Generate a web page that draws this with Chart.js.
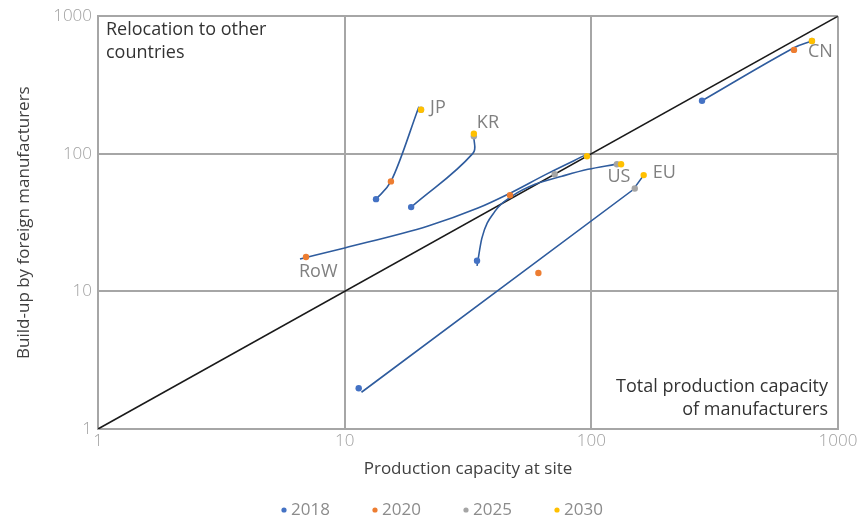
<!DOCTYPE html>
<html>
<head>
<meta charset="utf-8">
<script src="https://cdn.jsdelivr.net/npm/chart.js@4.4.1/dist/chart.umd.min.js"></script>
<style>
  html, body { margin: 0; padding: 0; background: #fff; }
  #wrap { width: 866px; height: 522px; }
</style>
</head>
<body>
<div id="wrap"><canvas id="chart"></canvas></div>
<script>
// axis ticks
const tickValues = [1, 10, 100, 1000];

// points per year (x: production capacity at site, y: build-up by foreign manufacturers)
const years = ['2018', '2020', '2025', '2030'];
const yearColors = ['#4472C4', '#ED7D31', '#A5A5A5', '#FFC000'];
const capacity2018 = [13.4, 18.6, 34.4, 11.4, 281];
const buildup2018  = [46.8, 41, 16.7, 1.98, 243];
const capacity2020 = [15.4, 46.8, 61, 6.97, 663];
const buildup2020  = [63, 50, 13.6, 17.8, 569];
const capacity2025 = [20.4, 33.4, 71, 127, 150, 784];
const buildup2025  = [209, 134, 71, 84, 56, 661];
const capacity2030 = [20.4, 33.4, 96, 132, 163, 784];
const buildup2030  = [209, 140, 96, 84, 70, 661];

// trajectory curves per country
const countries = ['JP', 'KR', 'US', 'RoW', 'EU', 'CN'];
const pathX = [
  [13.4, 15.4, 20.0],
  [18.6, 33.1, 33.4],
  [34.4, 36.0, 40.7, 47.7, 59.1, 76.0, 96.9, 124.7],
  [6.59, 10.0, 21.8, 34.7, 45.9, 66.7, 95.9],
  [11.7, 148, 163],
  [281, 663, 784]
];
const pathY = [
  [46.8, 63, 220],
  [41, 100.7, 134],
  [15.3, 24.4, 38.3, 49.3, 60.1, 68.7, 77.1, 83.8],
  [17.2, 20.7, 29.9, 40.3, 50.8, 72.1, 99.0],
  [1.85, 55, 70],
  [243, 590, 661]
];
const pathSmooth = ['monotone', 'tension', 'monotone', 'monotone', 'straight', 'tension'];

// country label anchor points
const labelX = [20.4, 33.4, 127, 6.97, 163, 784];
const labelY = [209, 140, 84, 17.8, 70, 661];

// diagonal
const diagonalX = [1, 1000];
const diagonalY = [1, 1000];

const FONT = "'Open Sans', Lato, sans-serif";

function pts(xs, ys) {
  return xs.map((x, i) => ({ x: x, y: ys[i] }));
}

const yearData = [
  pts(capacity2018, buildup2018),
  pts(capacity2020, buildup2020),
  pts(capacity2025, buildup2025),
  pts(capacity2030, buildup2030)
];

const datasets = [];
// year dots, 2030 on top
years.forEach((y, i) => {
  datasets.push({
    label: y,
    data: yearData[i],
    backgroundColor: yearColors[i],
    borderColor: yearColors[i],
    pointRadius: 3.2,
    pointBorderWidth: 0,
    showLine: false,
    order: 3 - i
  });
});
// trajectories
countries.forEach((c, i) => {
  const ds = {
    label: c,
    data: pts(pathX[i], pathY[i]),
    showLine: true,
    borderColor: '#2F5C9E',
    borderWidth: 1.6,
    pointRadius: 0,
    order: 5
  };
  if (pathSmooth[i] === 'monotone') ds.cubicInterpolationMode = 'monotone';
  else if (pathSmooth[i] === 'tension') ds.tension = 0.4;
  else ds.tension = 0;
  datasets.push(ds);
});
datasets.push({
  label: 'diagonal',
  data: pts(diagonalX, diagonalY),
  showLine: true,
  borderColor: '#1a1a1a',
  borderWidth: 1.6,
  pointRadius: 0,
  order: 6
});

// country labels + corner notes
const textPlugin = {
  id: 'texts',
  afterDatasetsDraw(chart) {
    const { ctx, chartArea, scales: { x, y } } = chart;
    const offsets = [[9, -2, 'left'], [3, -11, 'left'], [2, 13, 'center'], [-7, 15, 'left'], [9, -2, 'left'], [-4, 11, 'left']];
    ctx.save();
    ctx.font = `18px ${FONT}`;
    ctx.fillStyle = '#808080';
    ctx.textBaseline = 'middle';
    countries.forEach((c, i) => {
      const px = x.getPixelForValue(labelX[i]);
      const py = y.getPixelForValue(labelY[i]);
      ctx.textAlign = offsets[i][2];
      ctx.fillText(c, px + offsets[i][0], py + offsets[i][1]);
    });
    ctx.fillStyle = '#333';
    ctx.textAlign = 'left';
    ctx.fillText('Relocation to other', chartArea.left + 8, chartArea.top + 14);
    ctx.fillText('countries', chartArea.left + 8, chartArea.top + 37);
    ctx.textAlign = 'right';
    ctx.fillText('Total production capacity', chartArea.right - 10, chartArea.bottom - 42);
    ctx.fillText('of manufacturers', chartArea.right - 10, chartArea.bottom - 19);
    ctx.restore();
  }
};

// bottom legend
const legendPlugin = {
  id: 'yearLegend',
  afterDraw(chart) {
    const { ctx } = chart;
    const startX = 284, step = 91, cy = 510;
    ctx.save();
    ctx.font = `17px ${FONT}`;
    ctx.textBaseline = 'middle';
    ctx.textAlign = 'left';
    years.forEach((yr, i) => {
      const dx = startX + step * i;
      ctx.fillStyle = yearColors[i];
      ctx.beginPath();
      ctx.arc(dx, cy, 2.6, 0, Math.PI * 2);
      ctx.fill();
      ctx.fillStyle = '#8c8c8c';
      ctx.fillText(yr, dx + 7, cy);
    });
    ctx.restore();
  }
};

const gridStyle = { color: '#a6a6a6', lineWidth: 2, drawTicks: false };
const borderStyle = { color: '#a6a6a6', width: 2 };

new Chart(document.getElementById('chart'), {
  type: 'scatter',
  data: { datasets: datasets },
  options: {
    responsive: true,
    maintainAspectRatio: false,
    animation: false,
    layout: { padding: { left: 0, right: 28, top: 14, bottom: 40 } },
    plugins: {
      legend: { display: false },
      tooltip: { enabled: false }
    },
    scales: {
      x: {
        type: 'logarithmic',
        min: 1,
        max: 1000,
        afterBuildTicks: s => { s.ticks = tickValues.map(v => ({ value: v })); },
        afterFit: s => { s.height = 53; },
        grid: gridStyle,
        border: borderStyle,
        ticks: {
          padding: 2,
          color: '#a0a0a0',
          font: { family: FONT, size: 17, weight: '300' },
          callback: v => String(v)
        },
        title: {
          display: true,
          text: 'Production capacity at site',
          color: '#404040',
          font: { family: FONT, size: 17 },
          padding: { top: 0, bottom: 3 }
        }
      },
      y: {
        type: 'logarithmic',
        min: 1,
        max: 1000,
        afterBuildTicks: s => { s.ticks = tickValues.map(v => ({ value: v })); },
        afterFit: s => { s.width = 98; },
        grid: gridStyle,
        border: borderStyle,
        ticks: {
          padding: 6,
          color: '#a0a0a0',
          font: { family: FONT, size: 17, weight: '300' },
          callback: v => String(v)
        },
        title: {
          display: true,
          text: 'Build-up by foreign manufacturers',
          color: '#404040',
          font: { family: FONT, size: 17 },
          padding: { top: 14, bottom: 0 }
        }
      }
    }
  },
  plugins: [textPlugin, legendPlugin]
});
</script>
</body>
</html>
